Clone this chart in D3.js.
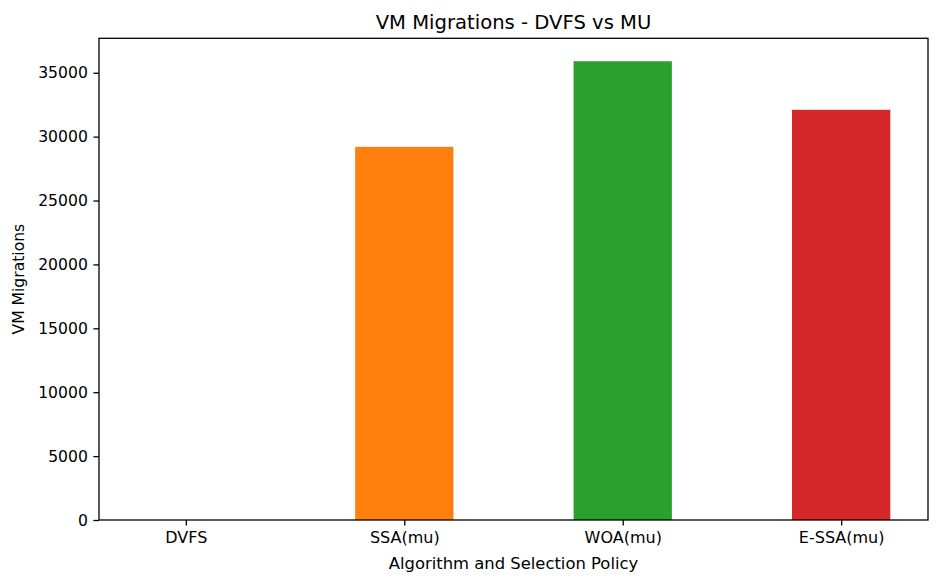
<!DOCTYPE html>
<html><head><meta charset="utf-8">
<script src="https://cdn.jsdelivr.net/npm/d3@7"></script>
<style>
html,body{margin:0;padding:0;background:#fff;}
svg{display:block;font-family:"DejaVu Sans",sans-serif;}
</style></head>
<body>
<script>
const categories = ["DVFS", "SSA(mu)", "WOA(mu)", "E-SSA(mu)"];
const migrations = [0, 29200, 35900, 32100];
const barColors = ["#1f77b4", "#ff7f0e", "#2ca02c", "#d62728"];
const yTicks = [0, 5000, 10000, 15000, 20000, 25000, 30000, 35000];

const W = 940, H = 583;
const mLeft = 99, mRight = 928, mTop = 38.3, mBottom = 520;
const barW = 0.45;

const svg = d3.select("body").append("svg").attr("width", W).attr("height", H);

const lo = -barW/2, hi = categories.length - 1 + barW/2;
const pad = (hi - lo) * 0.05;
const x = d3.scaleLinear().domain([lo - pad, hi + pad]).range([mLeft, mRight]);
const y = d3.scaleLinear().domain([0, d3.max(migrations) * 1.05]).range([mBottom, mTop]);

svg.append("g").selectAll("rect").data(migrations).join("rect")
  .attr("x", (d, i) => x(i - barW/2))
  .attr("width", (d, i) => x(i + barW/2) - x(i - barW/2))
  .attr("y", d => y(d))
  .attr("height", d => y(0) - y(d))
  .attr("fill", (d, i) => barColors[i]);

const yAxis = svg.append("g").attr("transform", `translate(${mLeft},0)`)
  .call(d3.axisLeft(y).tickValues(yTicks).tickFormat(d3.format("d")).tickSize(5.6).tickPadding(5.6));
const xAxis = svg.append("g").attr("transform", `translate(0,${mBottom})`)
  .call(d3.axisBottom(x).tickValues(d3.range(categories.length)).tickFormat(i => categories[i]).tickSize(5.6).tickPadding(6.4));
[yAxis, xAxis].forEach(g => {
  g.select(".domain").remove();
  g.selectAll("line").attr("stroke", "#000").attr("stroke-width", 1.3);
  g.selectAll("text").attr("fill", "#000").style("font-family", "DejaVu Sans");
});
yAxis.selectAll("text").style("font-size", "15.6px");
xAxis.selectAll("text").style("font-size", "16px");

svg.append("rect").attr("x", mLeft).attr("y", mTop).attr("width", mRight - mLeft).attr("height", mBottom - mTop)
  .attr("fill", "none").attr("stroke", "#000").attr("stroke-width", 1.3);

svg.append("text").attr("x", (mLeft + mRight) / 2).attr("y", 28.5)
  .attr("text-anchor", "middle").style("font-size", "19.6px").text("VM Migrations - DVFS vs MU");

svg.append("text").attr("x", (mLeft + mRight) / 2).attr("y", 569)
  .attr("text-anchor", "middle").style("font-size", "16.4px").text("Algorithm and Selection Policy");

svg.append("text").attr("transform", `translate(24,${(mTop + mBottom) / 2}) rotate(-90)`)
  .attr("text-anchor", "middle").style("font-size", "15.6px").text("VM Migrations");
</script>
</body></html>
